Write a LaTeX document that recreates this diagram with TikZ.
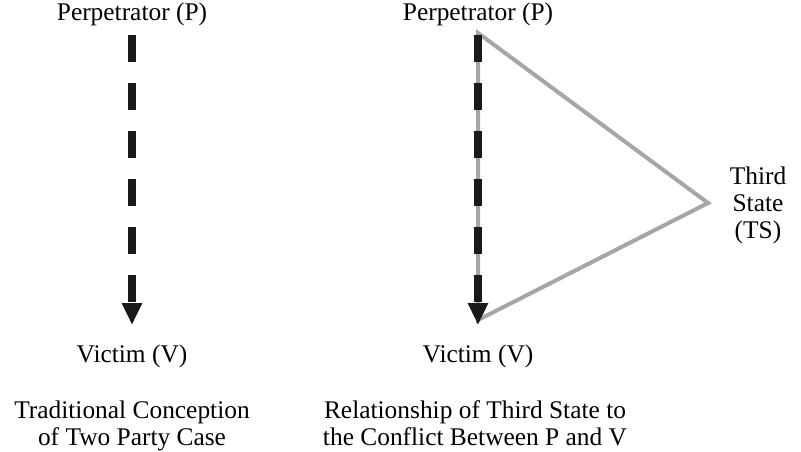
\documentclass[tikz,border=0pt]{standalone}
\usepackage{fontspec}
\setmainfont{Liberation Serif}
\usetikzlibrary{arrows.meta}

\begin{document}
\begin{tikzpicture}[x=0.5pt, y=-0.5pt,
    lbl/.style={anchor=base, align=center, inner sep=0pt,
        font=\fontsize{12.7}{13.5}\selectfont},
    link/.style={line width=4pt, draw=black!90, dash pattern=on 13.5pt off 10.5pt,
        -{Triangle[length=11pt, width=9.5pt]}},
    side/.style={line width=2pt, draw=black!35, line join=miter}]
    \useasboundingbox (0,0) rectangle (801,451);

    % Left: two party case
    \node[lbl] (perpA) at (132, 20) {Perpetrator (P)};
    \node[lbl] (victA) at (132, 362) {Victim (V)};
    \node[lbl] (capA) at (132, 445) {Traditional Conception\\of Two Party Case};
    \coordinate (pA) at (132, 35);
    \coordinate (vA) at (132, 325);

    % Right: third state
    \node[lbl] (perpB) at (478, 20) {Perpetrator (P)};
    \node[lbl] (victB) at (478, 362) {Victim (V)};
    \node[lbl] (third) at (758, 238) {Third\\State\\(TS)};
    \node[lbl] (capB) at (475, 445) {Relationship of Third State to\\the Conflict Between P and V};
    \coordinate (pB) at (478, 35);
    \coordinate (vB) at (478, 325);
    \coordinate (top) at (478, 33);
    \coordinate (tip) at (708, 203);
    \coordinate (bot) at (478, 320);

    % Triangle behind the arrow
    \draw[side] (top) -- (tip) -- (bot) -- cycle;

    % Arrows
    \draw[link] (pA) -- (vA);
    \draw[link] (pB) -- (vB);
\end{tikzpicture}
\end{document}
